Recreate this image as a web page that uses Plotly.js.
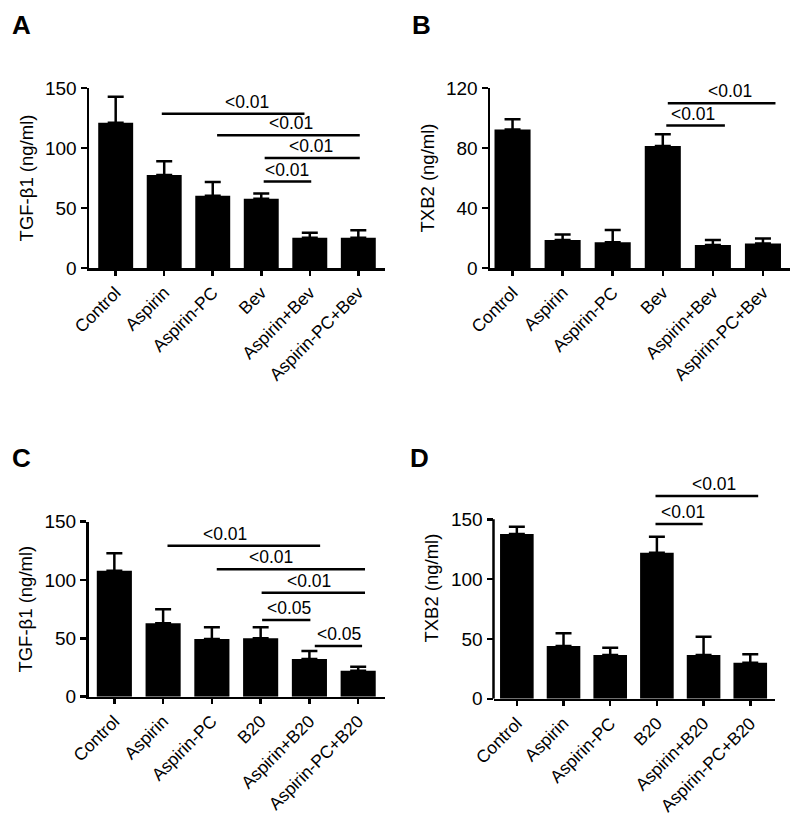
<!DOCTYPE html>
<html><head><meta charset="utf-8">
<script src="https://cdn.plot.ly/plotly-3.0.1.min.js"></script>
<style>html,body{margin:0;padding:0;background:#fff}</style>
</head><body><div id="chart" style="width:800px;height:825px"></div>
<script>
// ---- data ----
const catsBev = ['Control','Aspirin','Aspirin-PC','Bev','Aspirin+Bev','Aspirin-PC+Bev'];
const catsB20 = ['Control','Aspirin','Aspirin-PC','B20','Aspirin+B20','Aspirin-PC+B20'];

const tgfBevMean = [121, 77.5, 60.3, 57.8, 25.3, 25.3];
const tgfBevErr  = [21.7, 11.5, 11.4, 4.2, 4.1, 6.1];
const txbBevMean = [92.4, 18.7, 17.1, 81.3, 15.3, 16.4];
const txbBevErr  = [6.7, 3.7, 8.2, 7.8, 3.4, 3.2];
const tgfB20Mean = [108, 62.9, 49.4, 50, 32.3, 22.3];
const tgfB20Err  = [14.9, 12, 10.1, 9.5, 6.9, 3.4];
const txbB20Mean = [137.7, 44.1, 36.6, 122, 36.6, 30.2];
const txbB20Err  = [6.1, 10.6, 6.1, 13.4, 15.3, 7];

// significance brackets (category index positions, y value, text)
const sigA_from = [0.95, 2.09, 3.07, 3.05];
const sigA_to   = [3.89, 5.03, 5.03, 4.03];
const sigA_y    = [128.6, 110.6, 91.7, 72];
const sigA_text = ['<0.01','<0.01','<0.01','<0.01'];
const sigA_lx   = [2.71, 3.62, 4.02, 3.54];

const sigB_from = [3.07, 3.10];
const sigB_to   = [4.24, 5.25];
const sigB_y    = [95, 109.8];
const sigB_text = ['<0.01','<0.01'];
const sigB_lx   = [3.60, 4.35];

const sigC_from = [1.09, 2.10, 3.02, 3.03, 4.11];
const sigC_to   = [4.22, 5.14, 5.14, 4.02, 5.08];
const sigC_y    = [129.4, 109.2, 89.1, 65.7, 43.4];
const sigC_text = ['<0.01','<0.01','<0.01','<0.05','<0.05'];
const sigC_lx   = [2.26, 3.22, 4.0, 3.59, 4.61];

const sigD_from = [2.97, 2.97];
const sigD_to   = [3.98, 5.17];
const sigD_y    = [146, 169.4];
const sigD_text = ['<0.01','<0.01'];
const sigD_lx   = [3.56, 4.23];

const yTitles = ['TGF-\u03b21 (ng/ml)', 'TXB2 (ng/ml)', 'TGF-\u03b21 (ng/ml)', 'TXB2 (ng/ml)'];
const panelLetters = ['A','B','C','D'];
const yTicksA = [0, 50, 100, 150];
const yTicksB = [0, 40, 80, 120];
const yTicksC = [0, 50, 100, 150];
const yTicksD = [0, 50, 100, 150];

// ---- build ----
const FONT = 'Liberation Sans, Arial, sans-serif';
function barTrace(x, y, err, ax) {
  return {
    type: 'bar', x: x, y: y, width: 0.72,
    xaxis: 'x' + ax, yaxis: 'y' + ax,
    marker: {color: '#000', line: {width: 0}},
    error_y: {type: 'data', symmetric: false, array: err, arrayminus: err.map(() => 0),
              color: '#000', thickness: 2.5, width: 8},
    showlegend: false, hoverinfo: 'skip'
  };
}
const data = [
  barTrace(catsBev, tgfBevMean, tgfBevErr, ''),
  barTrace(catsBev, txbBevMean, txbBevErr, '2'),
  barTrace(catsB20, tgfB20Mean, tgfB20Err, '3'),
  barTrace(catsB20, txbB20Mean, txbB20Err, '4')
];

const shapes = [], annotations = [];
function addSig(from, to, ys, texts, lxs, ax) {
  for (let i = 0; i < from.length; i++) {
    shapes.push({type: 'line', xref: 'x' + ax, yref: 'y' + ax,
      x0: from[i], x1: to[i], y0: ys[i], y1: ys[i],
      line: {color: '#000', width: 2.5}});
    annotations.push({xref: 'x' + ax, yref: 'y' + ax, x: lxs[i], y: ys[i],
      text: texts[i], showarrow: false, xanchor: 'center', yanchor: 'middle', yshift: 12,
      font: {family: FONT, size: 17.5, color: '#000'}});
  }
}
addSig(sigA_from, sigA_to, sigA_y, sigA_text, sigA_lx, '');
addSig(sigB_from, sigB_to, sigB_y, sigB_text, sigB_lx, '2');
addSig(sigC_from, sigC_to, sigC_y, sigC_text, sigC_lx, '3');
addSig(sigD_from, sigD_to, sigD_y, sigD_text, sigD_lx, '4');

// panel D's y-axis line stops at its top tick
shapes.push({type: 'line', xref: 'x4 domain', yref: 'y4', x0: 0, x1: 0,
  y0: yTicksD[0], y1: yTicksD[yTicksD.length - 1],
  line: {color: '#000', width: 2.5}});

const letterPos = [[10, 8], [410, 8], [10, 441], [408, 441]];
panelLetters.forEach((t, i) => annotations.push({
  xref: 'paper', yref: 'paper', x: letterPos[i][0] / 800, y: 1 - letterPos[i][1] / 825,
  xanchor: 'left', yanchor: 'top', text: '<b>' + t + '</b>', showarrow: false,
  font: {family: FONT, size: 26, color: '#000'}}));

function xAx(domain, range) {
  return {domain: domain, range: range, type: 'category', showline: true, linewidth: 2.5,
    linecolor: '#000', ticks: 'outside', ticklen: 5, tickwidth: 2.5, tickcolor: '#000',
    tickangle: -45, tickfont: {family: FONT, size: 17.5, color: '#000'},
    showgrid: false, zeroline: false, fixedrange: true};
}
function yAx(domain, range, tickvals, title, showline) {
  return {domain: domain, range: range, tickvals: tickvals, showline: showline, linewidth: 2.5,
    linecolor: '#000', ticks: 'outside', ticklen: 6, tickwidth: 2.5, tickcolor: '#000',
    tickfont: {family: FONT, size: 19, color: '#000'},
    title: {text: title, font: {family: FONT, size: 18.5, color: '#000'}, standoff: 7},
    showgrid: false, zeroline: false, fixedrange: true};
}

const layout = {
  width: 800, height: 825,
  margin: {l: 0, r: 0, t: 0, b: 0},
  paper_bgcolor: '#fff', plot_bgcolor: '#fff',
  font: {family: FONT, color: '#000'},
  showlegend: false,
  xaxis:  xAx([89 / 800, 385 / 800], [-0.55, 5.55]),
  yaxis:  yAx([1 - 268 / 825, 1 - 88 / 825], [0, 150], yTicksA, yTitles[0], true),
  xaxis2: xAx([490 / 800, 790 / 800], [-0.45, 5.54]),
  yaxis2: yAx([1 - 268 / 825, 1 - 88 / 825], [0, 120], yTicksB, yTitles[1], true),
  xaxis3: xAx([88.5 / 800, 385 / 800], [-0.53, 5.55]),
  yaxis3: yAx([1 - 696.7 / 825, 1 - 521.7 / 825], [0, 150], yTicksC, yTitles[2], true),
  xaxis4: xAx([493.5 / 800, 775 / 800], [-0.5, 5.53]),
  yaxis4: yAx([1 - 698.8 / 825, 1 - 477.4 / 825], [0, 185], yTicksD, yTitles[3], false),
  shapes: shapes,
  annotations: annotations
};
layout.xaxis.anchor = 'y'; layout.yaxis.anchor = 'x';
layout.xaxis2.anchor = 'y2'; layout.yaxis2.anchor = 'x2';
layout.xaxis3.anchor = 'y3'; layout.yaxis3.anchor = 'x3';
layout.xaxis4.anchor = 'y4'; layout.yaxis4.anchor = 'x4';

Plotly.newPlot('chart', data, layout, {displayModeBar: false, staticPlot: true});
</script></body></html>
